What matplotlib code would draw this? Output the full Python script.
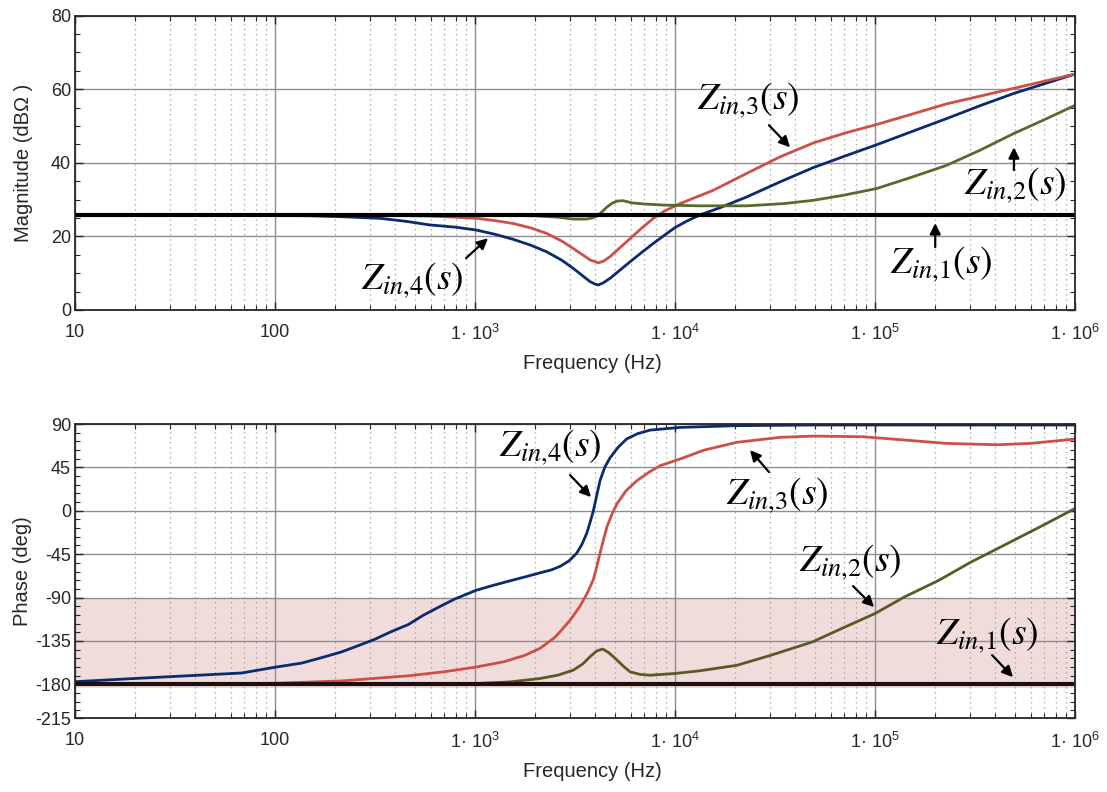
import numpy as np
import matplotlib
matplotlib.use("Agg")
import matplotlib.pyplot as plt
from matplotlib.ticker import FixedLocator, FuncFormatter, LogLocator, NullFormatter

plt.rcParams['font.family'] = ['Liberation Sans', 'DejaVu Sans']
plt.rcParams['mathtext.fontset'] = 'custom'
plt.rcParams['mathtext.rm'] = 'Liberation Sans'
plt.rcParams['mathtext.it'] = 'Liberation Sans:italic'
plt.rcParams['axes.unicode_minus'] = False

## magnitude (dB ohm)
f_mag1 = [10, 1e6]
mag1 = [25.8, 25.8]

f_mag2 = [10, 1000, 2000, 2600, 3100, 3617, 3850, 4060, 4300, 4570, 4850, 5130,
          5500, 6080, 7000, 8750, 13300, 22800, 35000, 49200, 70000, 102000,
          155000, 228000, 335000, 492000, 722000, 1e6]
mag2 = [25.8, 25.8, 25.6, 25.2, 24.7, 24.7, 25.0, 25.5, 26.6, 28.0, 29.0, 29.6,
        29.7, 29.1, 28.8, 28.5, 28.3, 28.3, 28.9, 29.8, 31.2, 33.0,
        36.2, 39.3, 43.4, 47.9, 52.0, 55.6]

f_mag3 = [10, 300, 600, 800, 1020, 1250, 1552, 1900, 2282, 2700, 3100, 3450, 3760,
          4137, 4400, 4732, 5300, 5960, 6800, 7790, 8800, 10590, 15500, 22800,
          33500, 49200, 72200, 102000, 155000, 228000, 335000, 492000, 1e6]
mag3 = [25.8, 25.8, 25.5, 25.2, 24.9, 24.3, 23.5, 22.3, 20.8, 18.8, 16.7, 15.0, 13.6,
        12.8, 13.3, 14.5, 16.9, 19.4, 22.2, 24.9, 26.8, 28.9, 32.5, 37.1,
        41.6, 45.4, 48.2, 50.4, 53.3, 56.0, 58.1, 60.2, 64.1]

f_mag4 = [10, 50, 100, 150, 200, 250, 335, 450, 596, 800, 1020, 1250, 1552, 1900,
          2282, 2700, 3100, 3450, 3760, 4000, 4137, 4350, 4732, 5300, 5960, 6800,
          7790, 8800, 10000, 11500, 13300, 16800, 22800, 33500, 49200, 72200,
          102000, 155000, 228000, 335000, 492000, 1e6]
mag4 = [25.8, 25.8, 25.7, 25.6, 25.4, 25.2, 24.9, 24.1, 23.1, 22.5, 21.7, 20.6, 19.2,
        17.6, 15.8, 13.6, 11.3, 9.3, 7.7, 7.0, 6.8, 7.3, 8.6, 10.8, 13.1, 15.6,
        18.1, 20.2, 22.4, 24.2, 25.8, 27.8, 30.7, 34.8, 38.7, 42.0,
        44.9, 48.6, 52.0, 55.5, 58.8, 64.1]

## phase (deg)
f_ph1 = [10, 1e6]
ph1 = [-180, -180]

f_ph2 = [10, 500, 1000, 1500, 2113, 2600, 3100, 3450, 3760, 4050, 4345, 4650, 5130,
         5500, 5960, 6700, 7500, 10000, 13300, 20400, 30000, 48700, 70000, 100000,
         140000, 209000, 300000, 460000, 700000, 1e6]
ph2 = [-180, -179.8, -179.3, -177.5, -174, -170.5, -165.3, -159, -151.4, -145.5,
       -143.4, -147, -154.9, -161, -167.1, -169.8, -170.6, -168.8, -166, -160.3,
       -150, -136, -121, -106.6, -89.5, -72, -53.5, -33.9, -14.5, 2.4]

f_ph3 = [10, 100, 215, 464, 700, 1000, 1400, 1778, 2113, 2512, 2661, 3000, 3350,
         3650, 3905, 4060, 4217, 4400, 4570, 4850, 5130, 5700, 6460, 7400, 8430,
         10590, 14000, 20300, 33500, 49200, 87400, 155000, 228000, 406000,
         596000, 1e6]
ph3 = [-180, -179, -176.5, -171.2, -167, -162.3, -156.5, -149.9, -142.7, -131.2,
       -125.5, -113, -98.9, -85, -71.3, -58, -44, -29, -16.4, -3, 7.5, 21, 31.4,
       40, 46.8, 53.7, 63, 71, 76.2, 77.5, 76.8, 72.7, 69.9, 68.5,
       69.9, 74.4]

f_ph4 = [10, 21.5, 68, 100, 136, 170, 215, 260, 316, 380, 464, 550, 638, 794, 1016,
         1250, 1538, 1800, 2113, 2400, 2661, 2950, 3224, 3420, 3617, 3760, 3905,
         4060, 4217, 4450, 4732, 5200, 5730, 6500, 7500, 10590, 20300,
         50000, 1e6]
ph4 = [-177.3, -173.6, -168.3, -162.3, -158, -152.5, -146.4, -140, -133.2, -125.5,
       -118, -108.5, -101.4, -91.4, -82.4, -77, -72, -68.3, -64.4, -61.4, -57.7,
       -52, -44, -35, -23.5, -12, 0, 16, 31.3, 45, 55, 66, 74.5, 80, 83.7, 86.5,
       88.3, 89, 89]

c_blue = '#0c2a6e'
c_red = '#cc5048'
c_green = '#566b2c'
c_olive = '#5b5a26'
txt_col = '#262626'

labels = [r'$Z_{in{,}1}(s)$', r'$Z_{in{,}2}(s)$', r'$Z_{in{,}3}(s)$', r'$Z_{in{,}4}(s)$']


def xfmt(v, pos):
    e = int(round(np.log10(v)))
    if e == 1:
        return '10'
    if e == 2:
        return '100'
    return '1\u00b7 10$^{%d}$' % e


def style(ax):
    ax.set_xscale('log')
    ax.set_xlim(10, 1e6)
    ax.xaxis.set_major_locator(LogLocator(base=10, numticks=10))
    ax.xaxis.set_minor_locator(LogLocator(base=10, subs=np.arange(2, 10), numticks=20))
    ax.xaxis.set_major_formatter(FuncFormatter(xfmt))
    ax.xaxis.set_minor_formatter(NullFormatter())
    ax.grid(which='major', color='#8f8f8f', linestyle='-', linewidth=1.0)
    ax.grid(which='minor', axis='x', color='#9a9a9a', linestyle=(0, (1, 3)), linewidth=0.9)
    ax.tick_params(which='both', direction='in', top=True, right=True,
                   colors=txt_col, labelsize=13)
    ax.tick_params(which='major', length=6, width=1.0)
    ax.tick_params(which='minor', length=3.5, width=0.8)
    ax.tick_params(axis='x', pad=10)
    ax.tick_params(axis='y', pad=3)
    for s in ax.spines.values():
        s.set_color(txt_col)
        s.set_linewidth(1.3)
    ax.set_axisbelow(True)


def note(ax, txt, xy_text, xy_from, xy_to):
    ax.text(xy_text[0], xy_text[1], txt, fontsize=27, math_fontfamily='stix',
            ha='center', va='center', color='k')
    ax.annotate('', xy=xy_to, xytext=xy_from,
                arrowprops=dict(arrowstyle='-|>', color='k', lw=1.6, mutation_scale=16,
                                shrinkA=0, shrinkB=0))


fig = plt.figure(figsize=(11.07, 7.92), dpi=100)
ax1 = fig.add_axes([0.0678, 0.6086, 0.9033, 0.3718])
ax2 = fig.add_axes([0.0678, 0.0934, 0.9033, 0.3712])

## magnitude
style(ax1)
ax1.plot(f_mag4, mag4, color=c_blue, lw=2.0)
ax1.plot(f_mag3, mag3, color=c_red, lw=2.0)
ax1.plot(f_mag2, mag2, color=c_green, lw=2.0)
ax1.plot(f_mag1, mag1, color='k', lw=3.0)
ax1.set_ylim(0, 80)
ax1.yaxis.set_major_locator(FixedLocator([0, 20, 40, 60, 80]))
ax1.yaxis.set_minor_locator(FixedLocator(np.arange(0, 81, 5)))
ax1.set_ylabel('Magnitude (dB\u03a9 )', fontsize=14.5, color=txt_col)
ax1.yaxis.set_label_coords(-0.042, 0.5)
ax1.set_xlabel('Frequency (Hz)', fontsize=14.5, color=txt_col)
ax1.xaxis.set_label_coords(0.517, -0.15)

note(ax1, labels[2], (23200, 56.9), (29500, 50.2), (37600, 44.2))
note(ax1, labels[1], (501000, 33.9), (495000, 38.0), (495000, 44.2))
note(ax1, labels[0], (214000, 12.5), (200000, 17.1), (200000, 23.6))
note(ax1, labels[3], (484, 8.1), (902, 14.1), (1161, 19.5))

## phase
style(ax2)
ax2.axhspan(-184, -90, color='#f0dcdb', zorder=0.5, lw=0)
ax2.plot(f_ph4, ph4, color=c_blue, lw=2.0)
ax2.plot(f_ph3, ph3, color=c_red, lw=2.0)
ax2.plot(f_ph2, ph2, color=c_olive, lw=2.0)
ax2.plot(f_ph1, ph1, color='#1c1010', lw=3.0)
ax2.set_ylim(-215, 90)
ax2.yaxis.set_major_locator(FixedLocator([90, 45, 0, -45, -90, -135, -180, -215]))
ax2.yaxis.set_minor_locator(FixedLocator(np.arange(90, -216, -9)))
ax2.set_ylabel('Phase (deg)', fontsize=14.5, color=txt_col)
ax2.yaxis.set_label_coords(-0.043, 0.5)
ax2.set_xlabel('Frequency (Hz)', fontsize=14.5, color=txt_col)
ax2.xaxis.set_label_coords(0.517, -0.15)

note(ax2, labels[3], (2371, 66.1), (2985, 37.1), (3802, 14.2))
note(ax2, labels[2], (32400, 16.3), (29500, 40.2), (23700, 63.0))
note(ax2, labels[1], (75000, -53.2), (77600, -78.1), (98900, -99.9))
note(ax2, labels[0], (363000, -129.0), (385000, -149.7), (490000, -172.6))

fig.savefig('out.png', dpi=100)
